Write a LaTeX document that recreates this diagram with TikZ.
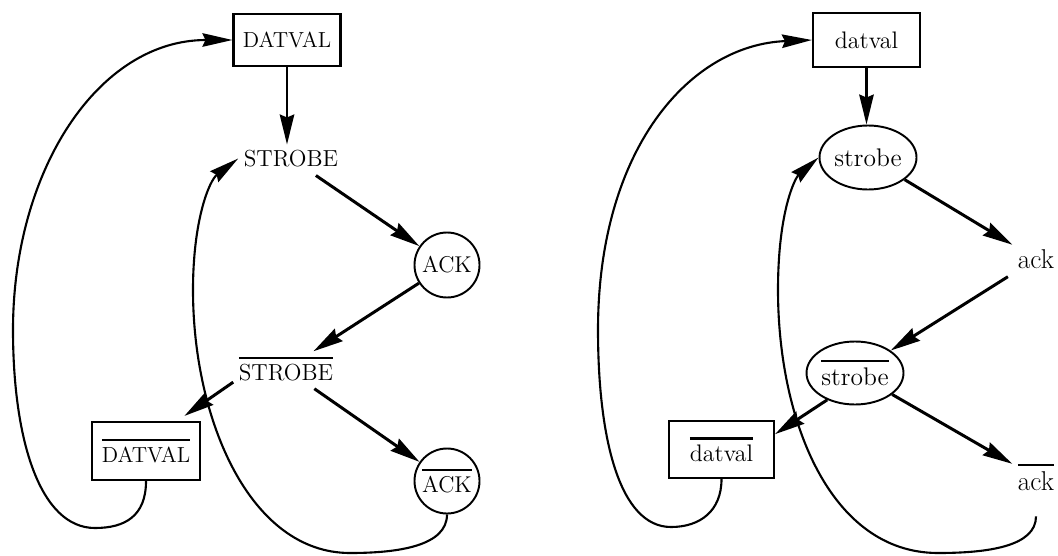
\documentclass[tikz,border=0pt]{standalone}
\usetikzlibrary{positioning, shapes.geometric, arrows.meta}

\newcommand{\inv}[1]{\vbox{\hrule height 1.2pt\kern 3pt\hbox{#1}}}

\tikzset{
	sig/.style={font=\fontsize{15.5}{18}\selectfont, inner sep=3pt},
	capsig/.style={font=\fontsize{13.2}{15}\selectfont, inner sep=3pt},
	reg/.style={draw, line width=1.2pt, rectangle, minimum width=2.14cm, minimum height=1.04cm, inner sep=0pt, font=\fontsize{12.4}{14}\selectfont},
	ring/.style={draw, line width=1.1pt, circle, minimum size=1.3cm, inner sep=0pt, font=\fontsize{13}{15}\selectfont},
	oval/.style={draw, line width=1.1pt, ellipse, minimum width=1.94cm, minimum height=1.28cm, inner sep=0pt, font=\fontsize{14.5}{17}\selectfont},
	fire/.style={-{Stealth[length=6mm,width=2.9mm,inset=0.6mm]}, line width=1.7pt},
	loopback/.style={-{Stealth[length=6mm,width=2.7mm,inset=0.6mm]}, line width=1.2pt},
}

\begin{document}
\begin{tikzpicture}
		\useasboundingbox (0,0) rectangle (21.16,11.10);

		% upper case signals
		\node[reg] (datvalA) at (5.74,10.30) {DATVAL};
		\node[capsig] (strobeA) at (5.82,7.93) {STROBE};
		\node[ring] (ackA) at (8.94,5.80) {ACK};
		\node[capsig] (strobeBarA) at (5.72,3.72) {\inv{STROBE}};
		\node[reg, minimum width=2.16cm, minimum height=1.16cm] (datvalBarA) at (2.92,2.08) {\inv{DATVAL}};
		\node[ring] (ackBarA) at (8.94,1.48) {\inv{ACK}};

		\draw[fire, line width=1.2pt] (datvalA.south) -- (datvalA.south |- strobeA.north);
		\draw[fire, shorten <=3pt] (strobeA) -- (ackA);
		\draw[fire] (ackA) -- (strobeBarA);
		\draw[fire, shorten >=5pt] (strobeBarA.194) -- (datvalBarA.44);
		\draw[fire, shorten <=2pt] (strobeBarA) -- (ackBarA);

		\draw[loopback] (datvalBarA.south) .. controls +(0,-0.70) and +(0.6,0) .. (1.90,0.54)
			.. controls +(-1.1,0) and +(0,-2.2) .. (0.26,4.50)
			.. controls +(0,3.2) and +(-2.68,0) .. (datvalA.west);
		\draw[loopback] (ackBarA.south) .. controls +(0,-0.62) and +(1.0,0) .. (7.00,0.04)
			.. controls +(-2.0,0) and +(0,-2.6) .. (3.86,5.30)
			.. controls +(0,1.4) and +(-0.58,-0.44) .. (strobeA.west);

		% lower case signals
		\node[reg, minimum height=1.08cm, font=\fontsize{13.6}{16}\selectfont] (datvalB) at (17.33,10.30) {datval};
		\node[oval] (strobeB) at (17.36,7.95) {strobe};
		\node[sig] (ackB) at (20.72,5.92) {ack};
		\node[oval, minimum height=1.26cm] (strobeBarB) at (17.10,3.64) {\inv{strobe}};
		\node[reg, minimum width=2.10cm, minimum height=1.14cm, font=\fontsize{13.6}{16}\selectfont] (datvalBarB) at (14.43,2.11) {\inv{datval}};
		\node[sig] (ackBarB) at (20.72,1.55) {\inv{ack}};

		\draw[fire, line width=1.2pt] (datvalB.south) -- (datvalB.south |- strobeB.north);
		\draw[fire] (strobeB) -- (ackB);
		\draw[fire, shorten <=3pt] (ackB) -- (strobeBarB);
		\draw[fire] (strobeBarB.224) -- (datvalBarB.16);
		\draw[fire] (strobeBarB) -- (ackBarB);

		\draw[loopback] (datvalBarB.south) .. controls +(0,-0.64) and +(0.58,0) .. (13.42,0.56)
			.. controls +(-1.02,0) and +(0,-2.2) .. (11.96,4.50)
			.. controls +(0,3.6) and +(-2.46,-0.1) .. (datvalB.west);
		\draw[loopback, shorten <=0.4cm] (ackBarB.south) .. controls +(0,-1.0) and +(1.0,0) .. (18.76,0.04)
			.. controls +(-2.16,0) and +(0,-2.6) .. (15.56,5.30)
			.. controls +(0,1.6) and +(-0.46,-0.4) .. (strobeB.west);
	\end{tikzpicture}
\end{document}
